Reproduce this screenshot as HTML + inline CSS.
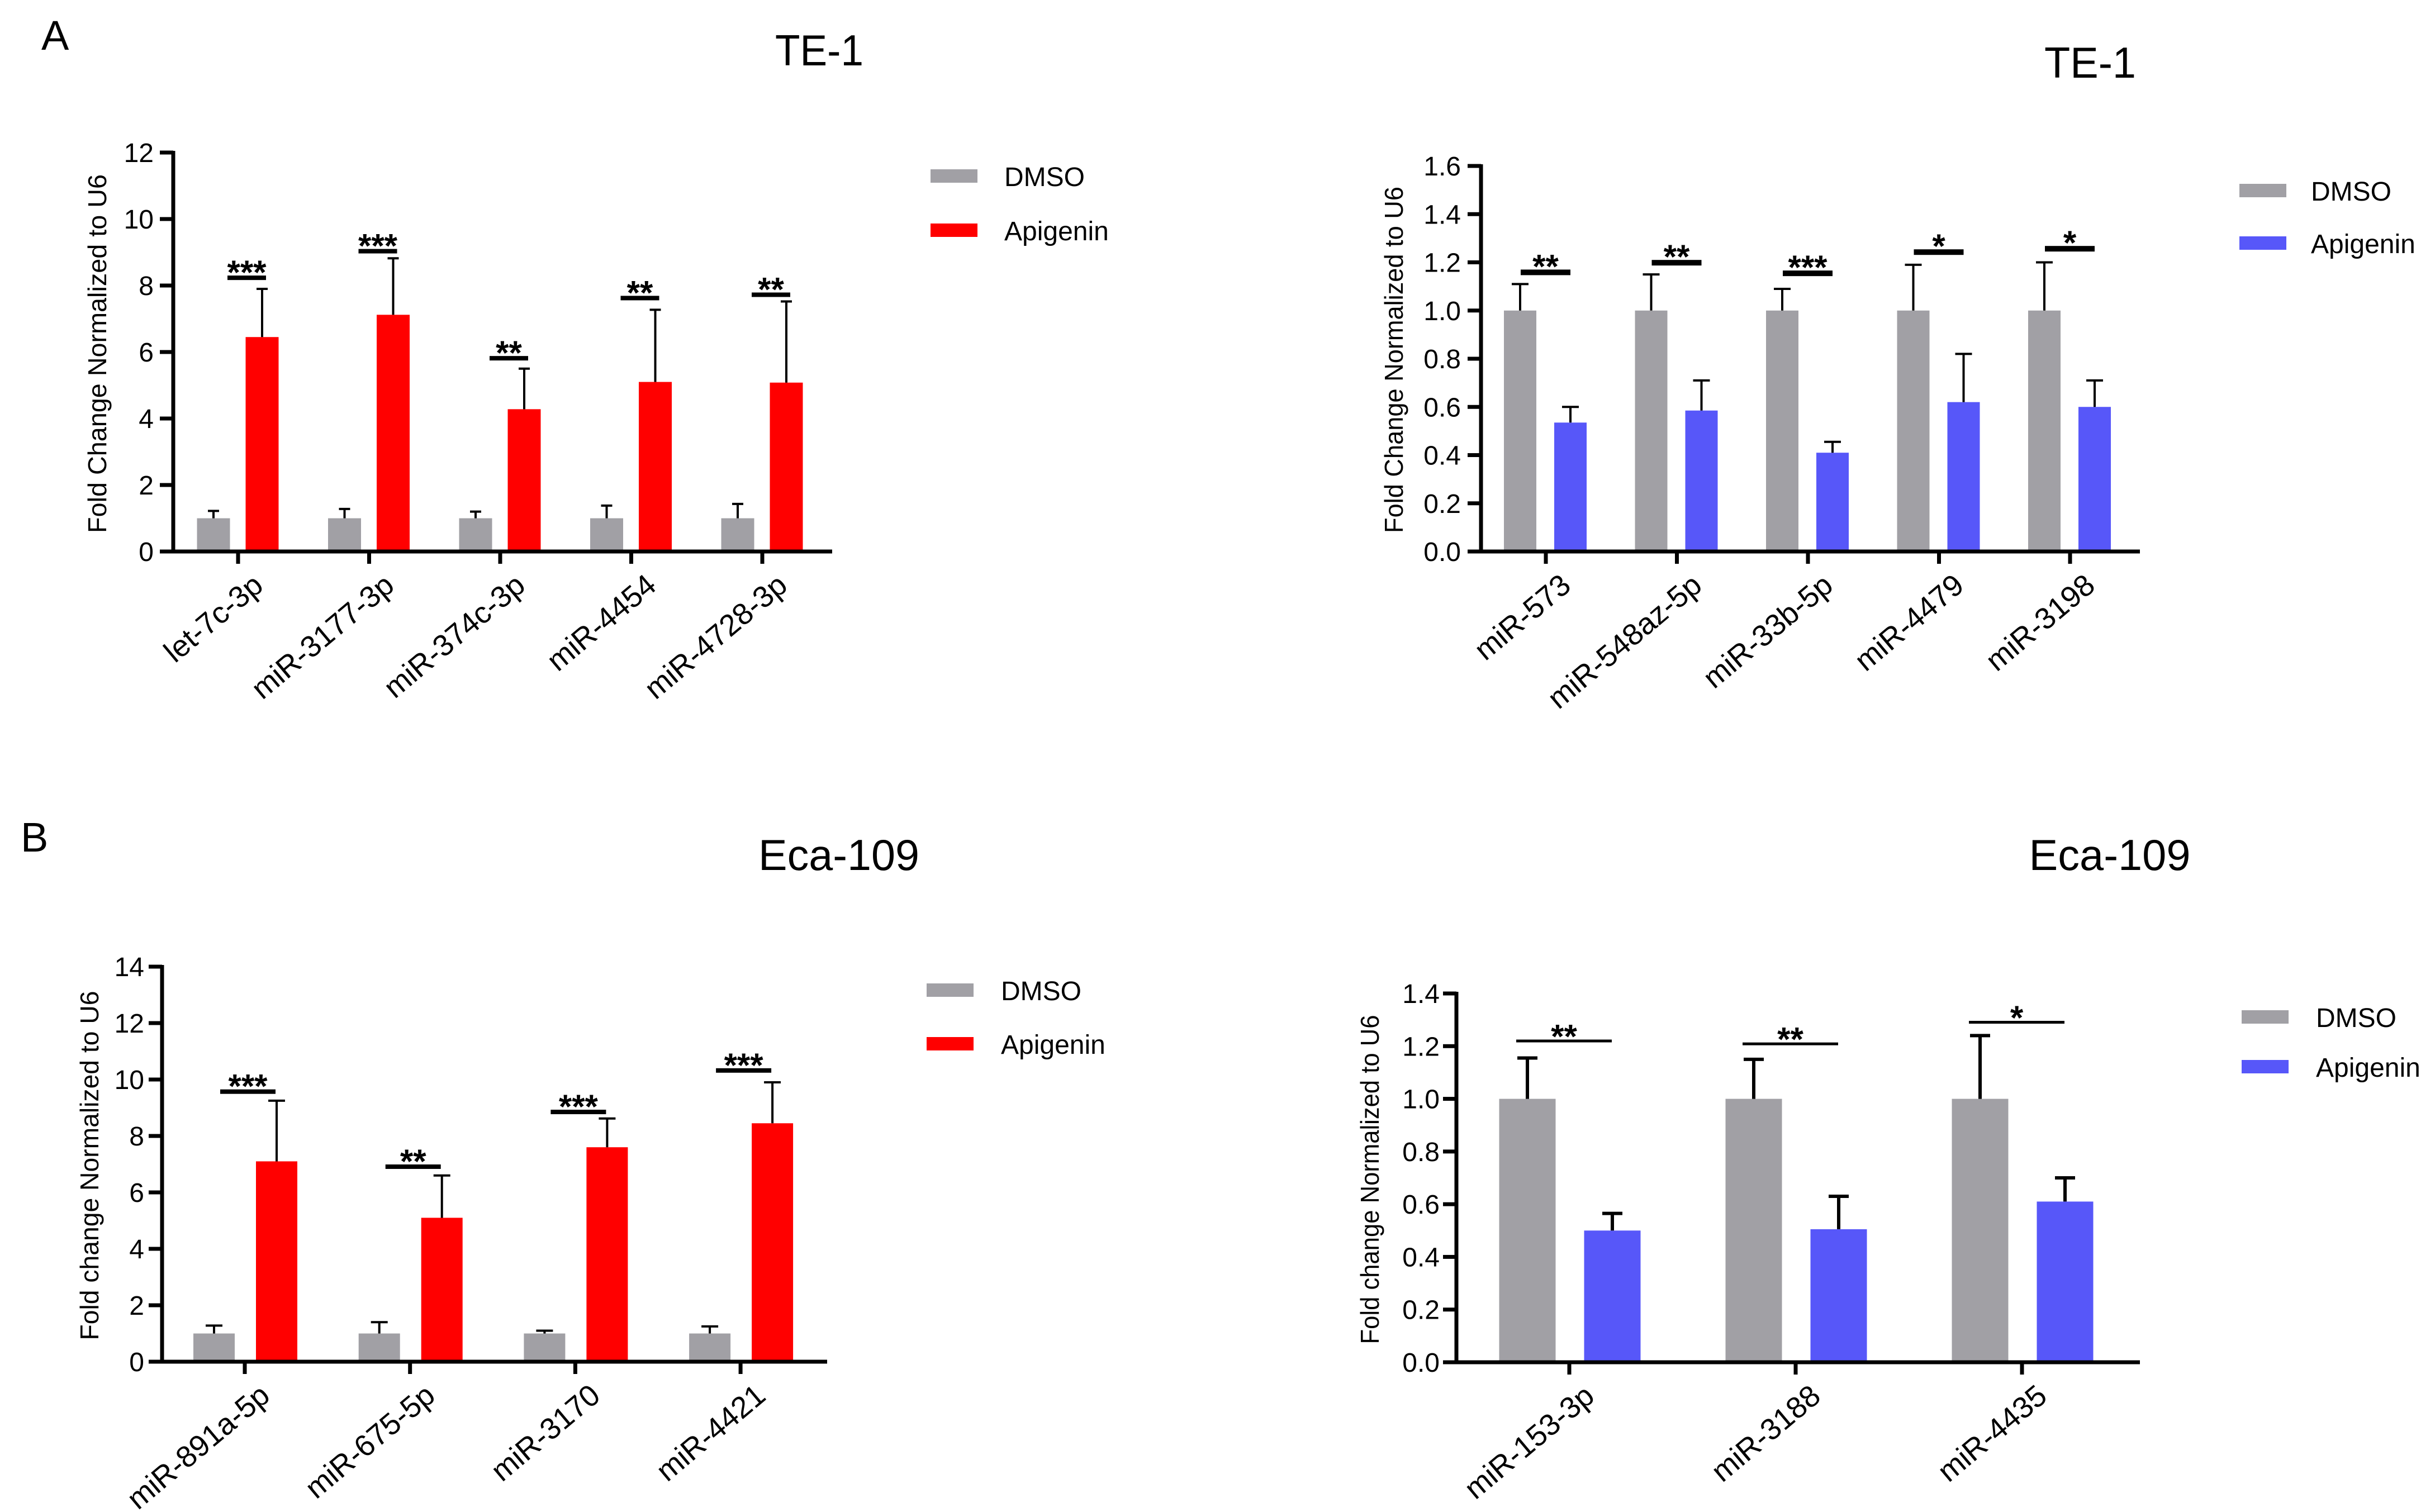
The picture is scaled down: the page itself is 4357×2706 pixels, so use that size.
<!DOCTYPE html>
<html><head><meta charset="utf-8"><style>
html,body{margin:0;padding:0;background:#fff;}
svg{display:block;font-family:"Liberation Sans",Arial,sans-serif;}
</style></head><body>
<svg id="fig" width="4357" height="2706" viewBox="0 0 4357 2706" xmlns="http://www.w3.org/2000/svg">
<rect width="4357" height="2706" fill="#fff"/>
<text x="74" y="89" font-size="74">A</text>
<text x="37" y="1524" font-size="74">B</text>
</svg>
<script>
// Panel A left (TE-1 upregulated)
const p1Cats = ["let-7c-3p","miR-3177-3p","miR-374c-3p","miR-4454","miR-4728-3p"];
const p1Dmso = [1,1,1,1,1];
const p1DmsoErr = [1.22,1.28,1.2,1.38,1.43];
const p1Apig = [6.45,7.12,4.28,5.1,5.08];
const p1ApigErr = [7.9,8.82,5.5,7.27,7.52];
const p1Sig = [8.3,9.1,5.88,7.69,7.79];
const p1Stars = ["***","***","**","**","**"];
const p1Ticks = ["0","2","4","6","8","10","12"];
// Panel A right (TE-1 downregulated)
const p2Cats = ["miR-573","miR-548az-5p","miR-33b-5p","miR-4479","miR-3198"];
const p2Dmso = [1,1,1,1,1];
const p2DmsoErr = [1.11,1.15,1.09,1.19,1.2];
const p2Apig = [0.535,0.585,0.41,0.62,0.6];
const p2ApigErr = [0.6,0.71,0.455,0.82,0.71];
const p2Sig = [1.17,1.21,1.166,1.254,1.268];
const p2Stars = ["**","**","***","*","*"];
const p2Ticks = ["0.0","0.2","0.4","0.6","0.8","1.0","1.2","1.4","1.6"];
// Panel B left (Eca-109 upregulated)
const p3Cats = ["miR-891a-5p","miR-675-5p","miR-3170","miR-4421"];
const p3Dmso = [1,1,1,1];
const p3DmsoErr = [1.28,1.4,1.1,1.25];
const p3Apig = [7.1,5.1,7.6,8.45];
const p3ApigErr = [9.25,6.6,8.62,9.9];
const p3Sig = [9.65,6.99,8.93,10.4];
const p3Stars = ["***","**","***","***"];
const p3Ticks = ["0","2","4","6","8","10","12","14"];
// Panel B right (Eca-109 downregulated)
const p4Cats = ["miR-153-3p","miR-3188","miR-4435"];
const p4Dmso = [1,1,1];
const p4DmsoErr = [1.155,1.15,1.24];
const p4Apig = [0.5,0.505,0.61];
const p4ApigErr = [0.565,0.63,0.70];
const p4Sig = [1.225,1.214,1.296];
const p4Stars = ["**","**","*"];
const p4Ticks = ["0.0","0.2","0.4","0.6","0.8","1.0","1.2","1.4"];

const NS="http://www.w3.org/2000/svg";
const svg=document.getElementById('fig');
function mk(tag,attrs,parent){const e=document.createElementNS(NS,tag);for(const k in attrs)e.setAttribute(k,attrs[k]);(parent||svg).appendChild(e);return e;}

const panels=[
 {name:'te1-up',cats:p1Cats,d:p1Dmso,de:p1DmsoErr,a:p1Apig,ae:p1ApigErr,sig:p1Sig,stars:p1Stars,ticks:p1Ticks,
  ax:310,yTop:273,yBot:987,ymax:12,xEnd:1489,cat0:426,step:234.5,offD:-44,offA:43,bw:59,sL:-19,sR:50,sT:8,ew:4,cw:20,
  apigColor:'#ff0000',title:'TE-1',tx:1466,ty:117,tw:158,ylab:'Fold  Change Normalized to U6',ylx:190,yly:633,yll:642,lblR:275,
  legX:1665,legY1:303,legY2:400,legTx:1797},
 {name:'te1-down',cats:p2Cats,d:p2Dmso,de:p2DmsoErr,a:p2Apig,ae:p2ApigErr,sig:p2Sig,stars:p2Stars,ticks:p2Ticks,
  ax:2650,yTop:297,yBot:987,ymax:1.6,xEnd:3829,cat0:2766,step:234.5,offD:-46,offA:44,bw:58,sL:-45,sR:44,sT:10,ew:4,cw:30,
  apigColor:'#5757f9',title:'TE-1',tx:3740,ty:139,tw:164,ylab:'Fold  Change Normalized to U6',ylx:2510,yly:644,yll:620,lblR:2614,
  legX:4007,legY1:329,legY2:423,legTx:4135},
 {name:'eca109-up',cats:p3Cats,d:p3Dmso,de:p3DmsoErr,a:p3Apig,ae:p3ApigErr,sig:p3Sig,stars:p3Stars,ticks:p3Ticks,
  ax:290,yTop:1730,yBot:2437,ymax:14,xEnd:1480,cat0:438,step:295.7,offD:-55,offA:57,bw:74,sL:-44,sR:55,sT:8,ew:4,cw:30,
  apigColor:'#ff0000',title:'Eca-109',tx:1501,ty:1557,tw:288,ylab:'Fold  change Normalized to U6',ylx:176,yly:2086,yll:625,lblR:258,
  legX:1658,legY1:1760,legY2:1856,legTx:1791},
 {name:'eca109-down',cats:p4Cats,d:p4Dmso,de:p4DmsoErr,a:p4Apig,ae:p4ApigErr,sig:p4Sig,stars:p4Stars,ticks:p4Ticks,
  ax:2606,yTop:1778,yBot:2438,ymax:1.4,xEnd:3829,cat0:2808,step:405,offD:-75,offA:77,bw:101,sL:-95,sR:76,sT:5,ew:6,cw:36,
  apigColor:'#5757f9',title:'Eca-109',tx:3775,ty:1557,tw:289,ylab:'Fold  change Normalized to U6',ylx:2467,yly:2111,yll:589,lblR:2576,
  legX:4011,legY1:1808,legY2:1897,legTx:4144}
];
const grey='#a1a0a5';

panels.forEach(p=>{
  const g=mk('g',{});
  
  
  const y=v=>p.yBot-(v/p.ymax)*(p.yBot-p.yTop);
  const cx=i=>p.cat0+i*p.step;
  const t=mk('text',{x:p.tx,y:p.ty,'font-size':78,'text-anchor':'middle',textLength:p.tw,lengthAdjust:'spacingAndGlyphs'},g);
  t.textContent=p.title;
  
  
  const yl=mk('text',{x:0,y:0,'font-size':46,'text-anchor':'middle',transform:`translate(${p.ylx},${p.yly}) rotate(-90)`,textLength:p.yll,lengthAdjust:'spacingAndGlyphs'},g);
  yl.textContent=p.ylab;
  
  
  p.cats.forEach((c,i)=>{
    const xd=cx(i)+p.offD, xa=cx(i)+p.offA;
    const b1=mk('rect',{x:xd-p.bw/2,y:y(p.d[i]),width:p.bw,height:p.yBot-y(p.d[i]),fill:grey},g);
    
    
    const b2=mk('rect',{x:xa-p.bw/2,y:y(p.a[i]),width:p.bw,height:p.yBot-y(p.a[i]),fill:p.apigColor},g);
    
    
    [[xd,p.d[i],p.de[i]],[xa,p.a[i],p.ae[i]]].forEach(([x,v,e])=>{
      const eb=mk('path',{d:`M${x} ${y(v)}V${y(e)}M${x-p.cw/2} ${y(e)}H${x+p.cw/2}`,stroke:'#000','stroke-width':p.ew,fill:'none'},g);
      
      
    });
    const sl=mk('rect',{x:cx(i)+p.sL,y:y(p.sig[i]),width:p.sR-p.sL,height:p.sT,fill:'#000'},g);
    
    
    const st=mk('text',{x:cx(i)+(p.sL+p.sR)/2,y:y(p.sig[i])+15,'font-size':60,'font-weight':'bold','text-anchor':'middle'},g);
    st.textContent=p.stars[i];
    
    
    mk('rect',{x:cx(i)-3.5,y:p.yBot,width:7,height:22,fill:'#000'},g);
    const xl=mk('text',{x:0,y:0,'font-size':54,'text-anchor':'end',transform:`translate(${cx(i)+48},${p.yBot+66}) rotate(-40)`},g);
    xl.textContent=c;
    
    
  });
  const axes=mk('path',{d:`M${p.ax} ${p.yTop-3}V${p.yBot}M${p.ax-24} ${p.yBot}H${p.xEnd}`,stroke:'#000','stroke-width':7,fill:'none'},g);
  
  
  p.ticks.forEach((tl,k)=>{
    const v=k*p.ymax/(p.ticks.length-1);
    mk('rect',{x:p.ax-24,y:y(v)-3.5,width:24,height:7,fill:'#000'},g);
    const tt=mk('text',{x:p.lblR,y:y(v)+17,'font-size':48,'text-anchor':'end'},g);
    tt.textContent=tl;
    
    
  });
  const l1=mk('rect',{x:p.legX,y:p.legY1,width:84,height:24,fill:grey},g);
  
  
  const l2=mk('rect',{x:p.legX,y:p.legY2,width:84,height:24,fill:p.apigColor},g);
  
  
  const lt1=mk('text',{x:p.legTx,y:p.legY1+30,'font-size':48},g);
  lt1.textContent='DMSO';
  
  
  const lt2=mk('text',{x:p.legTx,y:p.legY2+30,'font-size':48},g);
  lt2.textContent='Apigenin';
  
  
});
</script>
</body></html>
